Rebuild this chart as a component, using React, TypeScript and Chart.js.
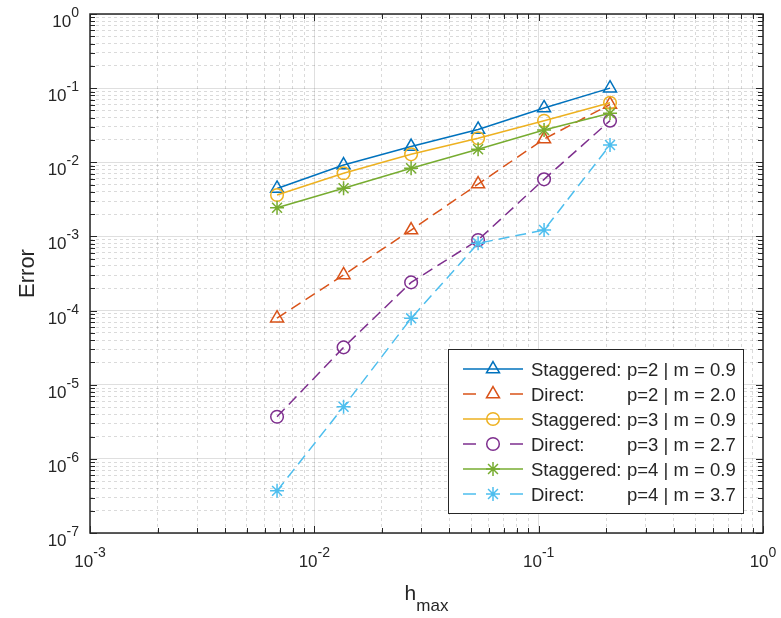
import React, { useEffect, useRef } from 'react';
import { Chart, registerables } from 'chart.js';

Chart.register(...registerables);

// ---------- data ----------
const hMax = [0.00682, 0.0135, 0.027, 0.0537, 0.1057, 0.208];
const staggeredP2 = [4.44e-3, 9.19e-3, 1.63e-2, 2.77e-2, 5.4e-2, 1.0e-1];
const directP2 = [7.9e-5, 3.02e-4, 1.22e-3, 5.09e-3, 2.06e-2, 6.02e-2];
const staggeredP3 = [3.62e-3, 7.1e-3, 1.28e-2, 2.11e-2, 3.64e-2, 6.36e-2];
const directP3 = [3.7e-6, 3.19e-5, 2.4e-4, 8.95e-4, 5.89e-3, 3.64e-2];
const staggeredP4 = [2.44e-3, 4.46e-3, 8.3e-3, 1.5e-2, 2.72e-2, 4.58e-2];
const directP4 = [3.7e-7, 5.05e-6, 7.86e-5, 8.07e-4, 1.22e-3, 1.71e-2];

const seriesNames = ['Staggered:', 'Direct:', 'Staggered:', 'Direct:', 'Staggered:', 'Direct:'];
const seriesSpecs = ['p=2 | m = 0.9', 'p=2 | m = 2.0', 'p=3 | m = 0.9', 'p=3 | m = 2.7', 'p=4 | m = 0.9', 'p=4 | m = 3.7'];
const seriesValues = [staggeredP2, directP2, staggeredP3, directP3, staggeredP4, directP4];

const xTickExponents = [-3, -2, -1, 0];
const yTickExponents = [-7, -6, -5, -4, -3, -2, -1, 0];
const xTitle = 'h';
const xTitleSub = 'max';
const yTitle = 'Error';

// ---------- styles ----------
const colors = ['#0072BD', '#D95319', '#EDB120', '#7E2F8E', '#77AC30', '#4DBEEE'];
const markers = ['triangle', 'triangle', 'circle', 'circle', 'star', 'star'];
const markerRadius = [7.5, 7.5, 6.3, 6.3, 7, 7];
const dashed = [false, true, false, true, false, true];
const FONT = '"Liberation Sans", Arial, Helvetica, sans-serif';
const TEXT = '#262626';

function logTicks(exps: number[]) {
  const out: { value: number; major: boolean }[] = [];
  for (let i = 0; i < exps.length - 1; i++) {
    for (let m = 1; m <= 9; m++) {
      out.push({ value: m * Math.pow(10, exps[i]), major: m === 1 });
    }
  }
  out.push({ value: Math.pow(10, exps[exps.length - 1]), major: true });
  return out;
}

function isDecade(v: number) {
  const l = Math.log10(v);
  return Math.abs(l - Math.round(l)) < 1e-9;
}

function drawMarker(ctx: CanvasRenderingContext2D, style: string, x: number, y: number, r: number) {
  ctx.beginPath();
  if (style === 'triangle') {
    for (let k = 0; k < 3; k++) {
      const a = -Math.PI / 2 + (k * 2 * Math.PI) / 3;
      const px = x + Math.cos(a) * r;
      const py = y + Math.sin(a) * r;
      if (k === 0) ctx.moveTo(px, py);
      else ctx.lineTo(px, py);
    }
    ctx.closePath();
  } else if (style === 'circle') {
    ctx.arc(x, y, r, 0, Math.PI * 2);
  } else {
    for (let k = 0; k < 4; k++) {
      const a = (k * Math.PI) / 4;
      ctx.moveTo(x - Math.cos(a) * r, y - Math.sin(a) * r);
      ctx.lineTo(x + Math.cos(a) * r, y + Math.sin(a) * r);
    }
  }
  ctx.stroke();
}

export default function App() {
  const canvasRef = useRef<HTMLCanvasElement | null>(null);

  useEffect(() => {
    const canvas = canvasRef.current;
    if (!canvas) return;

    const datasets = seriesValues.map((vals, i) => ({
      label: seriesNames[i] + ' ' + seriesSpecs[i],
      data: hMax.map((x, j) => ({ x, y: vals[j] })),
      borderColor: colors[i],
      borderWidth: 1.5,
      borderDash: dashed[i] ? [11, 6] : [],
      pointStyle: markers[i] as any,
      pointRadius: markerRadius[i],
      pointHoverRadius: markerRadius[i],
      pointBorderColor: colors[i],
      pointBackgroundColor: 'rgba(0,0,0,0)',
      pointBorderWidth: 1.5,
      fill: false,
      tension: 0,
      order: seriesValues.length - i,
    }));

    const decor = {
      id: 'decor',
      afterDraw(chart: any) {
        const ctx: CanvasRenderingContext2D = chart.ctx;
        const a = chart.chartArea;
        const xs = chart.scales.x;
        const ys = chart.scales.y;
        ctx.save();

        // inward ticks on all four sides
        ctx.strokeStyle = TEXT;
        ctx.lineWidth = 1;
        ctx.setLineDash([]);
        for (const t of logTicks(xTickExponents)) {
          const px = Math.round(xs.getPixelForValue(t.value)) + 0.5;
          const len = t.major ? 7 : 5;
          ctx.beginPath();
          ctx.moveTo(px, a.bottom);
          ctx.lineTo(px, a.bottom - len);
          ctx.moveTo(px, a.top);
          ctx.lineTo(px, a.top + len);
          ctx.stroke();
        }
        for (const t of logTicks(yTickExponents)) {
          const py = Math.round(ys.getPixelForValue(t.value)) + 0.5;
          const len = t.major ? 7 : 5;
          ctx.beginPath();
          ctx.moveTo(a.left, py);
          ctx.lineTo(a.left + len, py);
          ctx.moveTo(a.right, py);
          ctx.lineTo(a.right - len, py);
          ctx.stroke();
        }
        // box
        ctx.lineWidth = 1.5;
        ctx.strokeRect(a.left, a.top, a.right - a.left, a.bottom - a.top);

        // tick labels 10^e
        ctx.fillStyle = TEXT;
        ctx.textBaseline = 'alphabetic';
        const baseFont = '17px ' + FONT;
        const expFont = '14px ' + FONT;
        const drawPow = (e: number, x: number, y: number, align: 'center' | 'right') => {
          ctx.font = baseFont;
          const wb = ctx.measureText('10').width;
          ctx.font = expFont;
          const es = String(e);
          const we = ctx.measureText(es).width;
          const total = wb + we;
          const sx = align === 'center' ? x - total / 2 : x - total;
          ctx.textAlign = 'left';
          ctx.font = baseFont;
          ctx.fillText('10', sx, y);
          ctx.font = expFont;
          ctx.fillText(es, sx + wb, y - 10);
        };
        for (const e of xTickExponents) {
          const px = xs.getPixelForValue(Math.pow(10, e));
          drawPow(e, px, a.bottom + 34, 'center');
        }
        for (const e of yTickExponents) {
          const py = ys.getPixelForValue(Math.pow(10, e));
          drawPow(e, 79, py + 13, 'right');
        }

        // axis titles
        ctx.font = '21px ' + FONT;
        const wh = ctx.measureText(xTitle).width;
        ctx.font = '17px ' + FONT;
        const wm = ctx.measureText(xTitleSub).width;
        const cx = (a.left + a.right) / 2;
        const sx = cx - (wh + wm) / 2;
        ctx.font = '21px ' + FONT;
        ctx.fillText(xTitle, sx, 600);
        ctx.font = '17px ' + FONT;
        ctx.fillText(xTitleSub, sx + wh, 611);

        ctx.save();
        ctx.translate(34, (a.top + a.bottom) / 2);
        ctx.rotate(-Math.PI / 2);
        ctx.font = '22px ' + FONT;
        ctx.textAlign = 'center';
        ctx.fillText(yTitle, 0, 0);
        ctx.restore();

        // legend
        const lx = 448, ly = 349, lw = 295, lh = 164;
        ctx.fillStyle = '#ffffff';
        ctx.fillRect(lx, ly, lw, lh);
        ctx.strokeStyle = TEXT;
        ctx.lineWidth = 1;
        ctx.strokeRect(lx + 0.5, ly + 0.5, lw, lh);
        for (let i = 0; i < seriesNames.length; i++) {
          const ry = 369 + i * 25;
          ctx.strokeStyle = colors[i];
          ctx.lineWidth = 1.5;
          ctx.setLineDash([]);
          ctx.beginPath();
          if (dashed[i]) {
            ctx.moveTo(463, ry);
            ctx.lineTo(476, ry);
            ctx.moveTo(510, ry);
            ctx.lineTo(523, ry);
          } else {
            ctx.moveTo(463, ry);
            ctx.lineTo(523, ry);
          }
          ctx.stroke();
          drawMarker(ctx, markers[i], 493, ry, markerRadius[i]);
          ctx.fillStyle = TEXT;
          ctx.font = '18.5px ' + FONT;
          ctx.textAlign = 'left';
          ctx.fillText(seriesNames[i], 531, ry + 6.5);
          ctx.fillText(seriesSpecs[i], 627, ry + 6.5);
        }
        ctx.restore();
      },
    };

    const gridColor = (c: any) =>
      c.tick && isDecade(c.tick.value) ? 'rgba(38,38,38,0.15)' : 'rgba(38,38,38,0.17)';
    const gridDash = (c: any) => (c.tick && isDecade(c.tick.value) ? [] : [3, 3]);

    const chart = new Chart(canvas, {
      type: 'line',
      data: { datasets: datasets as any },
      options: {
        animation: false,
        responsive: false,
        devicePixelRatio: 1,
        layout: { padding: { top: 14, right: 18, left: 0, bottom: 0 } },
        plugins: {
          legend: { display: false },
          tooltip: { enabled: false },
          title: { display: false },
        },
        scales: {
          x: {
            type: 'logarithmic',
            min: Math.pow(10, xTickExponents[0]),
            max: Math.pow(10, xTickExponents[xTickExponents.length - 1]),
            afterBuildTicks: (s: any) => {
              s.ticks = logTicks(xTickExponents);
            },
            afterFit: (s: any) => {
              s.height = 85;
            },
            ticks: { display: false },
            grid: { color: gridColor as any, drawTicks: false, lineWidth: 1 },
            border: { display: false, dash: gridDash as any },
          },
          y: {
            type: 'logarithmic',
            min: Math.pow(10, yTickExponents[0]),
            max: Math.pow(10, yTickExponents[yTickExponents.length - 1]),
            afterBuildTicks: (s: any) => {
              s.ticks = logTicks(yTickExponents);
            },
            afterFit: (s: any) => {
              s.width = 90;
            },
            ticks: { display: false },
            grid: { color: gridColor as any, drawTicks: false, lineWidth: 1 },
            border: { display: false, dash: gridDash as any },
          },
        },
      },
      plugins: [decor],
    });

    return () => {
      chart.destroy();
    };
  }, []);

  return (
    <div style={{ position: 'absolute', left: 0, top: 0, width: 781, height: 618, background: '#fff' }}>
      <canvas ref={canvasRef} width={781} height={618} style={{ display: 'block' }} />
    </div>
  );
}
